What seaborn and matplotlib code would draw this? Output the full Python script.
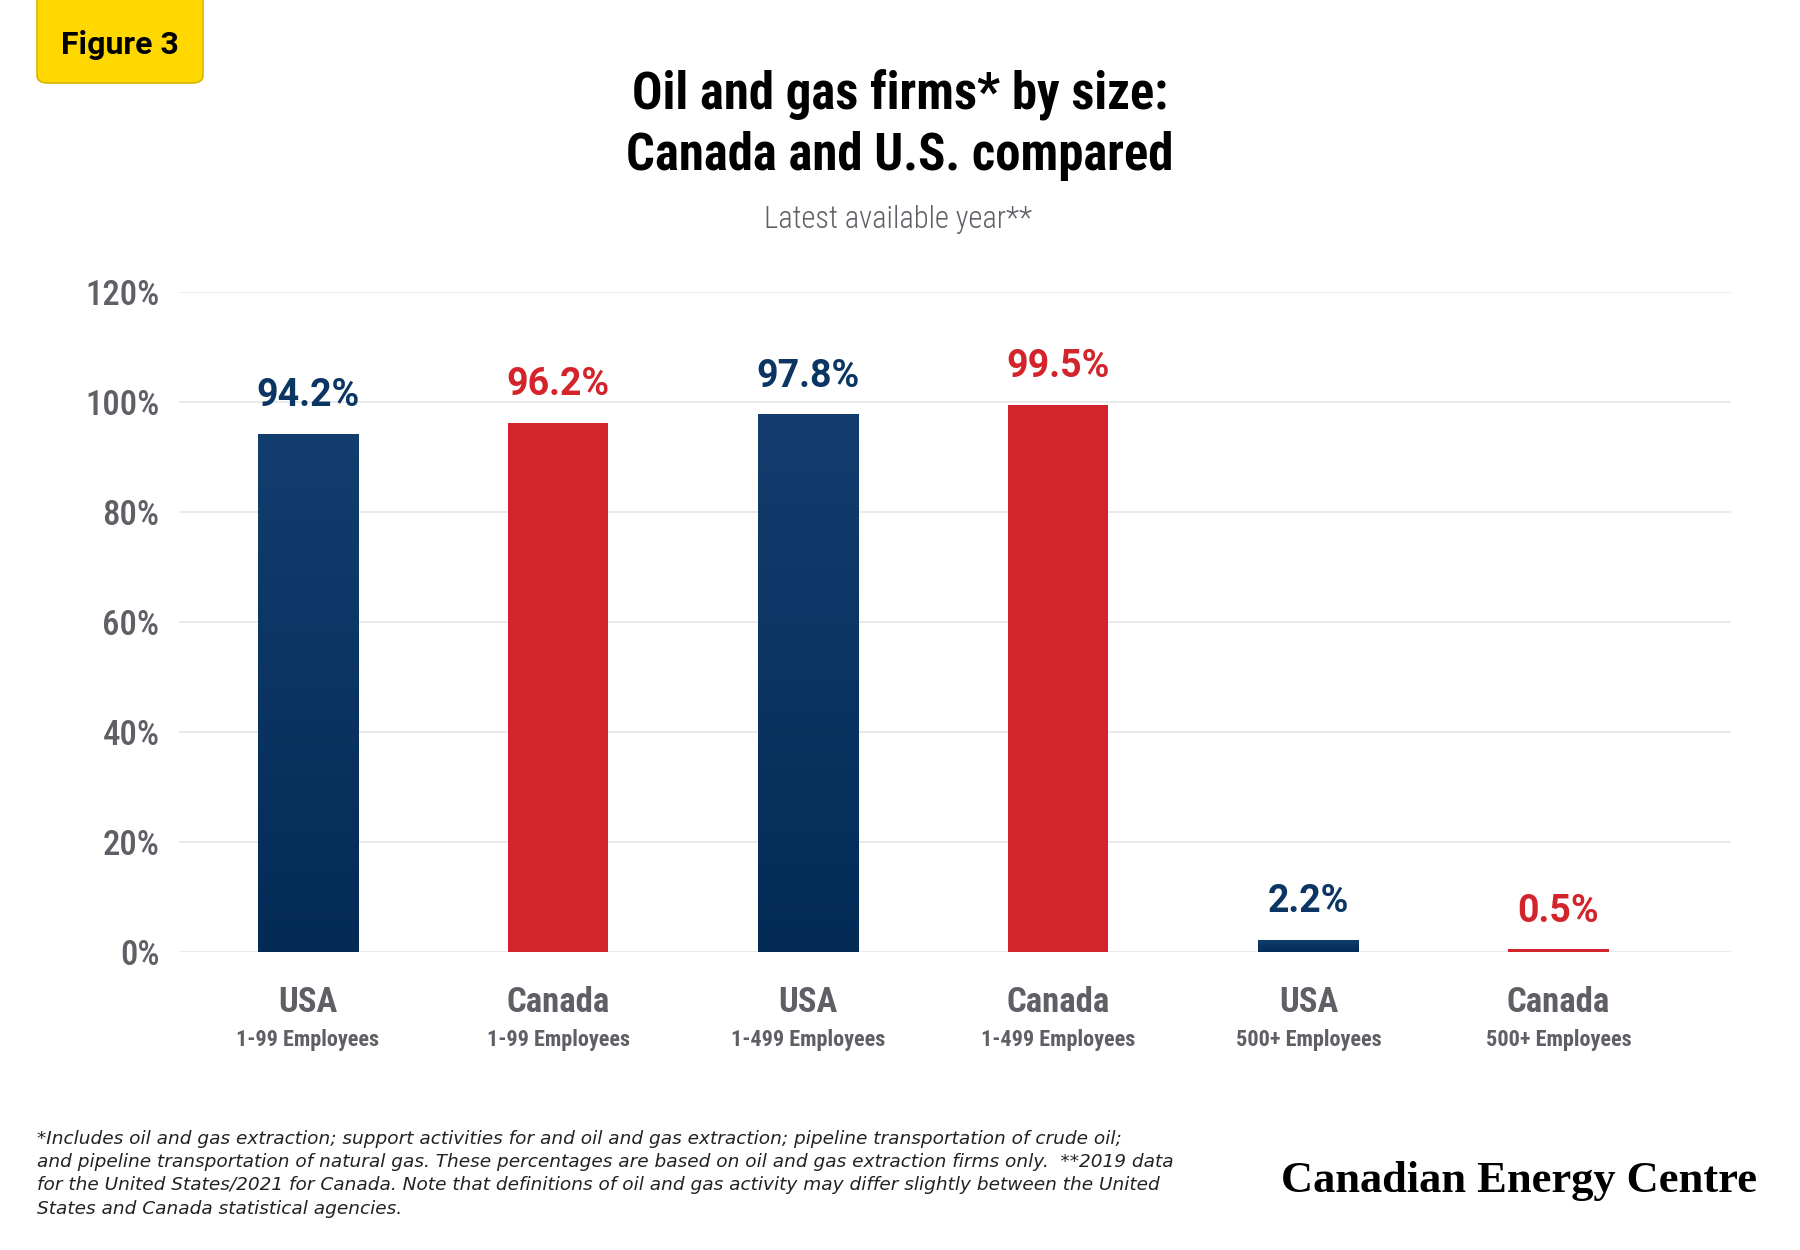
import numpy as np
import pandas as pd
import matplotlib
matplotlib.use('Agg')
import matplotlib.pyplot as plt
from matplotlib import font_manager
from matplotlib.colors import LinearSegmentedColormap
from matplotlib.patches import FancyBboxPatch
import matplotlib.transforms as mtransforms
import seaborn as sns

# --- data ---
countries = ['USA', 'Canada', 'USA', 'Canada', 'USA', 'Canada']
size_groups = ['1-99 Employees', '1-99 Employees', '1-499 Employees',
               '1-499 Employees', '500+ Employees', '500+ Employees']
shares = [94.2, 96.2, 97.8, 99.5, 2.2, 0.5]
y_ticks = [0, 20, 40, 60, 80, 100, 120]

title = 'Oil and gas firms* by size:\nCanada and U.S. compared'
subtitle = 'Latest available year**'
footnote = ('*Includes oil and gas extraction; support activities for and oil and gas extraction; pipeline transportation of crude oil;\n'
            'and pipeline transportation of natural gas. These percentages are based on oil and gas extraction firms only.  **2019 data\n'
            'for the United States/2021 for Canada. Note that definitions of oil and gas activity may differ slightly between the United\n'
            'States and Canada statistical agencies.')

NAVY = '#0B3562'
NAVY_TOP = '#123D6E'
NAVY_BOTTOM = '#032B56'
RED = '#D3232B'
GREY = '#5E6066'


def pick_font(candidates):
    names = {f.name for f in font_manager.fontManager.ttflist}
    for c in candidates:
        if c in names:
            return c
    return 'DejaVu Sans'


sns.set_style('white')
narrow = pick_font(['Roboto Condensed', 'Liberation Sans Narrow', 'Open Sans Condensed', 'Roboto'])
sans = pick_font(['Roboto', 'Inter', 'Liberation Sans'])
serif = pick_font(['Liberation Serif', 'DejaVu Serif'])
plt.rcParams['font.family'] = [sans, 'DejaVu Sans']

df = pd.DataFrame({
    'label': [f'{c}\n{s}' for c, s in zip(countries, size_groups)],
    'country': countries,
    'share': shares,
})

fig = plt.figure(figsize=(18, 12.5), dpi=100)
ax = fig.add_axes([0.0994, 0.2384, 0.8623, 0.528])

sns.barplot(data=df, x='label', y='share', hue='country',
            palette={'USA': NAVY, 'Canada': RED}, dodge=False, saturation=1,
            width=0.4, legend=False, ax=ax, zorder=3, linewidth=0)

# subtle vertical gradient on the navy bars
navy_cmap = LinearSegmentedColormap.from_list('navy', [NAVY_BOTTOM, NAVY_TOP])
grad = np.linspace(0, 1, 256).reshape(-1, 1)
for patch in list(ax.patches):
    x0, w = patch.get_x(), patch.get_width()
    idx = int(round(x0 + w / 2))
    if countries[idx] != 'USA' or patch.get_height() <= 0:
        continue
    im = ax.imshow(grad, extent=[x0, x0 + w, 0, patch.get_height()], origin='lower',
                   cmap=navy_cmap, aspect='auto', zorder=3.5)
    im.set_clip_path(patch)

ax.set_xlim(-0.516, 5.69)
ax.set_ylim(0, 120)
ax.set_yticks(y_ticks)
ax.set_yticklabels([f'{t}%' for t in y_ticks], fontfamily=narrow, fontsize=25,
                   fontweight='medium', color=GREY)
ax.tick_params(axis='y', length=0, pad=14)
ax.tick_params(axis='x', length=0)
ax.set_xticks([])
ax.set_xlabel('')
ax.set_ylabel('')
ax.grid(axis='y', color='#E8E8E8', linewidth=1.3, zorder=0)
ax.set_axisbelow(True)
sns.despine(ax=ax, left=True, bottom=True)

# value labels above the bars
for i, (v, c) in enumerate(zip(shares, countries)):
    ax.annotate(f'{v}%', (i, v), xytext=(0, 14), textcoords='offset points',
                ha='center', va='bottom', fontsize=27, fontweight='bold',
                color=NAVY if c == 'USA' else RED, fontfamily=sans)

# two-line category labels
trans = mtransforms.blended_transform_factory(ax.transData, fig.transFigure)
for i, (c, s) in enumerate(zip(countries, size_groups)):
    ax.text(i, 1 - 1002 / 1250, c, transform=trans, ha='center', va='center',
            fontsize=25, fontweight='bold', fontfamily=narrow, color=GREY)
    ax.text(i, 1 - 1040 / 1250, s, transform=trans, ha='center', va='center',
            fontsize=16, fontweight='bold', fontfamily=narrow, color=GREY)

# titles
fig.text(0.5, 1 - 125 / 1250, title, ha='center', va='center', fontsize=36.5,
         fontweight='heavy', fontfamily=narrow, color='black', linespacing=1.25)
fig.text(0.499, 1 - 219 / 1250, subtitle, ha='center', va='center', fontsize=22,
         fontweight='light', fontfamily=narrow, color=GREY)

# "Figure 3" tag
tag = FancyBboxPatch((37 / 1800, 1 - 83 / 1250), 166 / 1800, 100 / 1250,
                     boxstyle='round,pad=0,rounding_size=0.006',
                     transform=fig.transFigure, facecolor='#FFD800',
                     edgecolor='#D8B400', linewidth=1.2)
fig.patches.append(tag)
fig.text(120 / 1800, 1 - 45 / 1250, 'Figure 3', ha='center', va='center',
         fontsize=23, fontweight='bold', fontfamily=sans, color='black')

# footnote and logo
fig.text(37 / 1800, 1 - 1130 / 1250, footnote, ha='left', va='top', fontsize=13.3,
         style='italic', fontfamily='DejaVu Sans', color='#222222', linespacing=1.37)
fig.text(1757 / 1800, 1 - 1181 / 1250, 'Canadian Energy Centre', ha='right', va='center',
         fontsize=32, fontweight='bold', fontfamily=serif, color='black')

fig.savefig('out.png', dpi=100, facecolor='white')
